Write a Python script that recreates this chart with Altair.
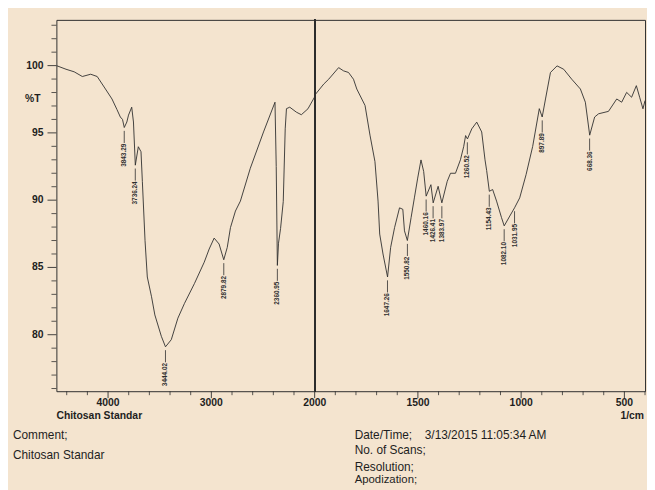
import altair as alt
import pandas as pd

# ---- spectrum trace (wavenumber, %T) ----
wn = [4500, 4407, 4328, 4249, 4168, 4105, 4025, 3962, 3914, 3881, 3860, 3843, 3818, 3802,
      3771, 3754, 3736, 3707, 3681, 3668, 3642, 3620, 3579, 3547, 3484, 3444, 3388, 3324,
      3260, 3164, 3069, 3021, 2973, 2925, 2880, 2846, 2815, 2767, 2719, 2623, 2495, 2384,
      2372, 2361, 2350, 2330, 2304, 2285, 2273, 2241, 2177, 2129, 2065, 2002, 1995, 1956,
      1932, 1884, 1860, 1836, 1812, 1796, 1756, 1732, 1708, 1693, 1685, 1669, 1647, 1632,
      1613, 1589, 1573, 1565, 1551, 1533, 1517, 1501, 1485, 1472, 1460, 1437, 1426, 1402,
      1384, 1358, 1342, 1318, 1294, 1278, 1269, 1260, 1239, 1215, 1191, 1175, 1167, 1154,
      1138, 1119, 1095, 1082, 1055, 1032, 1007, 976, 944, 912, 898, 882, 858, 826, 794,
      755, 713, 689, 668, 644, 625, 577, 537, 513, 489, 465, 442, 426, 410, 400]
trans = [100.0, 99.73, 99.54, 99.19, 99.36, 99.19, 98.26, 97.52, 96.74, 96.18, 96.0, 95.4,
         95.81, 96.32, 96.91, 95.81, 92.6, 93.97, 93.6, 91.4, 86.99, 84.29, 82.82, 81.47,
         79.88, 79.1, 79.63, 81.23, 82.33, 83.8, 85.39, 86.37, 87.18, 86.74, 85.57, 86.49,
         87.96, 89.19, 89.93, 92.37, 95.07, 97.28, 92.5, 85.15, 86.8, 87.9, 89.9, 95.3,
         96.8, 96.91, 96.54, 96.35, 96.79, 97.65, 97.89, 98.63, 98.99, 99.85, 99.61, 99.49,
         98.99, 98.26, 97.04, 94.83, 92.87, 89.93, 87.48, 86.0, 84.29, 86.49, 87.96, 89.43,
         89.32, 87.72, 87.0, 88.7, 90.17, 91.64, 92.99, 92.13, 90.3, 91.15, 89.8, 91.03,
         89.8, 91.4, 92.0, 92.0, 93.0, 94.0, 94.8, 94.55, 95.3, 95.8, 95.07, 93.0, 92.2,
         90.66, 90.79, 89.93, 88.7, 88.09, 88.82, 89.43, 90.17, 91.9, 94.0, 96.8, 96.18,
         97.52, 99.49, 99.98, 99.73, 98.99, 98.26, 97.28, 94.83, 96.18, 96.42, 96.6, 97.52,
         97.28, 98.01, 97.65, 98.51, 97.65, 96.79, 97.4]

# ---- labelled peaks ----
peak_wn = [3843.29, 3736.24, 3444.02, 2879.82, 2360.95, 1647.26, 1550.82, 1460.16,
           1426.41, 1383.97, 1260.52, 1154.43, 1082.10, 1031.95, 897.89, 668.36]
peak_t = [95.4, 92.6, 79.1, 85.57, 85.15, 84.29, 87.0, 90.3, 89.8, 89.8, 94.55, 90.66,
          88.09, 89.43, 96.18, 94.83]

# ---- axis ticks ----
x_major = [4000, 3000, 2000, 1500, 1000, 500]
x_minor = [v for v in list(range(4400, 1999, -200)) + list(range(1900, 399, -100))
           if v not in x_major]
y_major = [80, 85, 90, 95, 100]
y_minor = [v for v in range(76, 104) if v not in y_major]

spec = pd.DataFrame({"wn": wn, "T": trans})
peaks = pd.DataFrame({"wn": peak_wn, "T": peak_t,
                      "lab": [f"{v:.2f}" for v in peak_wn]})
xmaj = pd.DataFrame({"wn": x_major, "lab": [str(v) for v in x_major]})
xmin = pd.DataFrame({"wn": x_minor})
ymaj = pd.DataFrame({"T": y_major, "lab": [str(v) for v in y_major]})
ymin = pd.DataFrame({"T": y_minor})

BG = "#f4e4cf"
INK = "#2e2e2e"
TXT = "#1e1e1e"
W, H = 596, 376
FONT = "Liberation Sans"

xscale = alt.Scale(domain=[4500, 2000, 400], range=[0, 261.5, W], nice=False, zero=False)
yscale = alt.Scale(domain=[75.8, 103.4], nice=False, zero=False)

X = alt.X("wn:Q", scale=xscale, axis=None)
Y = alt.Y("T:Q", scale=yscale, axis=None)

line = alt.Chart(spec).mark_line(color=INK, strokeWidth=0.9, clip=True).encode(
    x=X, y=Y, order=alt.Order("wn:Q", sort="descending"))

split = alt.Chart(spec).mark_rule(color=INK, strokeWidth=1).encode(
    x=alt.datum(2000, type="quantitative"))

# x-axis ticks and labels
xt_major = alt.Chart(xmaj).mark_rule(color=INK, strokeWidth=0.9).encode(
    x="wn:Q", y=alt.value(H), y2=alt.value(H + 7))
xt_minor = alt.Chart(xmin).mark_rule(color=INK, strokeWidth=0.8).encode(
    x="wn:Q", y=alt.value(H), y2=alt.value(H + 4))
xt_lab = alt.Chart(xmaj).mark_text(baseline="top", align="center", font=FONT, fontSize=10.5,
                                   fontWeight="bold", color=TXT).encode(
    x="wn:Q", y=alt.value(H + 7), text="lab:N")

# y-axis ticks and labels
yt_major = alt.Chart(ymaj).mark_rule(color=INK, strokeWidth=0.9).encode(
    y="T:Q", x=alt.value(0), x2=alt.value(-9))
yt_minor = alt.Chart(ymin).mark_rule(color=INK, strokeWidth=0.8).encode(
    y="T:Q", x=alt.value(0), x2=alt.value(-5))
yt_lab = alt.Chart(ymaj).mark_text(baseline="middle", align="right", font=FONT, fontSize=10.5,
                                   fontWeight="bold", color=TXT).encode(
    y="T:Q", x=alt.value(-13), text="lab:N")

# peak markers
ticks = alt.Chart(peaks).transform_calculate(
    y1="datum.T - 0.25", y2="datum.T - 1.15").mark_rule(color=INK, strokeWidth=0.8).encode(
    x=alt.X("wn:Q"), y=alt.Y("y1:Q"), y2="y2:Q")

labels = alt.Chart(peaks).transform_calculate(
    yt="datum.T - 1.2").mark_text(angle=270, align="right", baseline="middle",
                                    font=FONT, fontSize=6.5,
                                    fontWeight="bold", color=INK).encode(
    x=alt.X("wn:Q"), y=alt.Y("yt:Q"), text="lab:N")


def note(txt, px, py, size=12, weight="normal", align="left"):
    return alt.Chart(pd.DataFrame({"t": [txt]})).mark_text(
        align=align, baseline="middle", font=FONT, fontSize=size,
        fontWeight=weight, color=TXT).encode(
        x=alt.value(px), y=alt.value(py), text="t:N")


notes = [
    note("%T", -24, 80, 10.5, "bold", "center"),
    note("Chitosan Standar", 0, 401, 10.5, "bold"),
    note("1/cm", 595, 401, 10.5, "bold", "right"),
    note("Comment;", -44, 420),
    note("Chitosan Standar", -44, 441),
    note("Date/Time;", 302, 420),
    note("3/13/2015 11:05:34 AM", 373, 420),
    note("No. of Scans;", 302, 436),
    note("Resolution;", 302, 453),
    note("Apodization;", 302, 466, 11.5),
]

chart = alt.layer(line, split, xt_major, xt_minor, xt_lab, yt_major, yt_minor, yt_lab,
                  ticks, labels, *notes).properties(
    width=W, height=H, background=BG,
    autosize=alt.AutoSizeParams(type="none"),
    padding={"left": 49, "top": 9, "right": 2, "bottom": 97},
).configure_view(stroke=INK, strokeWidth=1)

chart.save("out.html", embed_options={"renderer": "svg", "actions": False})
